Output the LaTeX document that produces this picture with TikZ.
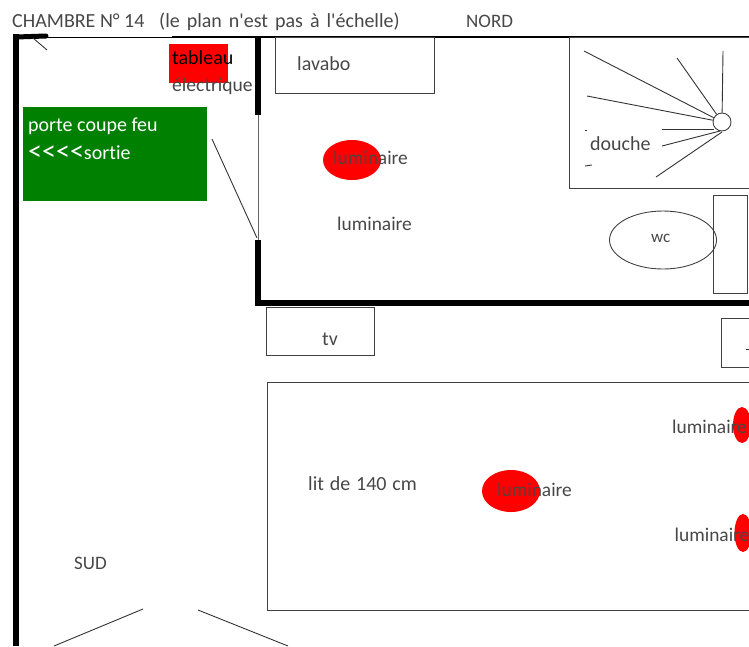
\documentclass[tikz,border=0pt]{standalone}
\usepackage{fontspec}
\usetikzlibrary{shapes.geometric}
\setmainfont[Ligatures=NoCommon]{Carlito}
\definecolor{sortiegreen}{RGB}{0,128,0}
\definecolor{inkgrey}{gray}{0.28}
\newcommand{\bigless}{\raisebox{-1.5pt}{\fontsize{28}{28}\selectfont <}}
\tikzset{
  x=1pt,y=-1pt,
  lbl/.style={inner sep=0pt,anchor=west,text=inkgrey,font=\fontsize{20}{20}\selectfont},
  lumlbl/.style={lbl,font=\fontsize{19.4}{20}\selectfont},
  thinline/.style={draw=black!80,line width=0.9pt},
  wall/.style={draw=black,line width=5.6pt},
  furniture/.style={draw=black!75,line width=0.9pt,fill=none},
  lamp/.style={fill=red,draw=none,ellipse,inner sep=0pt},
}
\begin{document}
\begin{tikzpicture}
\useasboundingbox (0,0) rectangle (749,646);
\clip (0,0) rectangle (749,646);
% named coordinates
\coordinate (tl) at (16,37);
\coordinate (tr) at (749,37);
\coordinate (tm) at (172,37);
\coordinate (tle) at (46,36);
\coordinate (tlw) at (16,34);
\coordinate (bl) at (16,646);
\coordinate (wa) at (258,37);
\coordinate (wb) at (258,115);
\coordinate (wc1) at (258,240);
\coordinate (wd) at (258,305.6);
\coordinate (wf) at (255.2,302.8);
\coordinate (we) at (749,302.8);
\coordinate (d1) at (212,139);
\coordinate (d2) at (257,238);
\coordinate (s1) at (33,38);
\coordinate (s2) at (47,50);
\coordinate (b0) at (143,609);
\coordinate (b1) at (54,646);
\coordinate (b2) at (198,610);
\coordinate (b3) at (288,646);
% fills
\fill[red] (168.5,44) rectangle (227.5,83);
\fill[sortiegreen] (23,107) rectangle (207,201);
\node[lamp,minimum width=58pt,minimum height=40pt] (l1) at (352,160) {};
\node[lamp,minimum width=58pt,minimum height=42pt] (l2) at (511,491) {};
\node[lamp,minimum width=18pt,minimum height=36pt] (l3) at (742,425) {};
\node[lamp,minimum width=17pt,minimum height=38pt] (l4) at (743,533) {};
% walls
\draw[draw=black,line width=1pt] (tl) -- (tr);
\draw[draw=black,line width=2.4pt] (tm) -- (tr);
\draw[draw=black,line width=5pt,line cap=round] (tl) -- (tle);
\draw[draw=black,line width=6pt] (tlw) -- (bl);
\draw[wall] (wa) -- (wb);
\draw[draw=black!60,line width=1pt] (wb) -- (wc1);
\draw[wall] (wc1) -- (wd);
\draw[wall] (wf) -- (we);
\draw[thinline] (d1) -- (d2);
\draw[thinline] (s1) -- (s2);
\draw[thinline] (b0) -- (b1);
\draw[thinline] (b2) -- (b3);
% furniture
\draw[furniture] (275,37) rectangle (434,93);
\draw[furniture] (266.5,307) rectangle (374,355);
\draw[furniture] (721.5,318) rectangle (760,367);
\draw[furniture] (267.5,382) rectangle (760,610);
\draw[furniture] (569,37) rectangle (760,188);
\draw[furniture] (713,195) rectangle (747,293);
\node[draw=black!75,line width=0.9pt,ellipse,minimum width=107pt,minimum height=58pt,inner sep=0pt] (wcb) at (663,240) {};
% shower
\node[draw=black!75,line width=0.9pt,circle,minimum size=18pt,inner sep=0pt] (rose) at (722,122) {};
\coordinate (r1) at (584,51);
\coordinate (r2) at (677,58);
\coordinate (r3) at (723,51);
\coordinate (r4) at (587,96);
\coordinate (r5) at (662,129);
\coordinate (r5e) at (714,129);
\coordinate (r6) at (662,146);
\coordinate (r6e) at (720,131);
\coordinate (r7) at (656,177);
\coordinate (r7e) at (722,132);
\draw[thinline] (r1) -- (rose);
\draw[thinline] (r2) -- (rose);
\draw[thinline] (r3) -- (rose);
\draw[thinline] (r4) -- (rose);
\draw[thinline] (r5) -- (r5e);
\draw[thinline] (r6) -- (r6e);
\draw[thinline] (r7) -- (r7e);
\coordinate (m1) at (585,130);
\coordinate (m2) at (587,130);
\coordinate (m3) at (585,166);
\coordinate (m4) at (592,165);
\coordinate (m5) at (746,349);
\coordinate (m6) at (749,349);
\draw[thinline] (m1) -- (m2);
\draw[thinline] (m3) -- (m4);
\draw[thinline] (m5) -- (m6);
% labels
\node[lbl] (title) at (12,21) {CHAMBRE N° 14};
\node[lbl] (note) at (159,22) {\spaceskip=7pt (le plan n\textquotesingle est pas à l\textquotesingle échelle)};
\node[lbl,font=\fontsize{19}{20}\selectfont] (nord) at (466,21) {NORD};
\node[lbl,text=black] (tab) at (172,58) {tableau};
\node[lbl,font=\fontsize{19.6}{20}\selectfont] (elec) at (172,86) {électrique};
\node[lbl,text=white] (porte) at (28,126) {porte coupe feu};
\node[lbl,text=white,anchor=base west] (sortie) at (28,159) {\bigless\bigless\bigless\bigless sortie};
\node[lbl] (lav) at (297,64) {lavabo};
\node[lumlbl] (lum1) at (333,158) {luminaire};
\node[lumlbl] (lum2) at (337,224) {luminaire};
\node[lbl] (dou) at (590,144) {douche};
\node[lbl,font=\fontsize{17}{17}\selectfont] (wct) at (651,238) {wc};
\node[lbl] (tvt) at (322,339) {tv};
\node[lbl] (lit) at (308,484) {\spaceskip=5.8pt lit de 140 cm};
\node[lumlbl] (lum3) at (497,490) {luminaire};
\node[lumlbl] (lum4) at (672,427) {luminaire};
\node[lumlbl] (lum5) at (674.5,535) {luminaire};
\node[lbl,font=\fontsize{19}{20}\selectfont] (sud) at (74,563) {SUD};
\end{tikzpicture}
\end{document}
